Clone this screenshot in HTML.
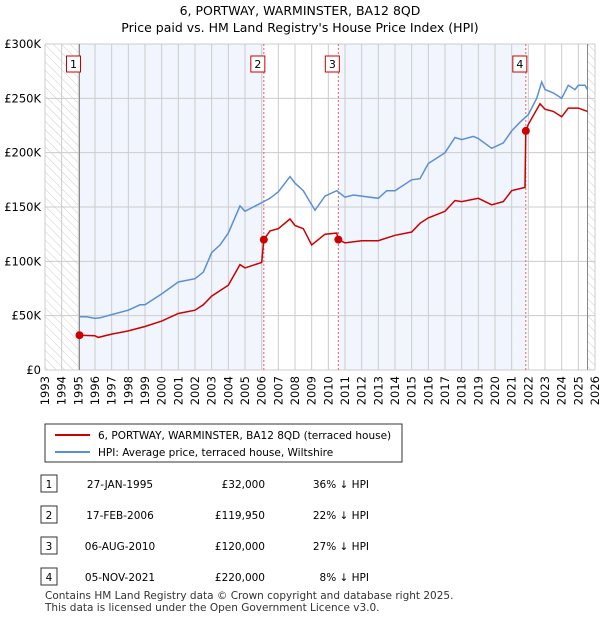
<!DOCTYPE html>
<html><head><meta charset="utf-8"><style>
body{margin:0;background:#fff;font-family:"Liberation Sans","DejaVu Sans",sans-serif;}
svg text{font-family:"DejaVu Sans","Liberation Sans",sans-serif;}
</style></head><body>
<svg id="c" width="600" height="620" xmlns="http://www.w3.org/2000/svg">
<defs><pattern id="hatch" width="6" height="6" patternUnits="userSpaceOnUse" patternTransform="rotate(-45)"><line x1="0" y1="0" x2="0" y2="6" stroke="#ccc" stroke-width="1"/></pattern></defs>
<text x="300" y="15" font-size="12.5" text-anchor="middle">6, PORTWAY, WARMINSTER, BA12 8QD</text>
<text x="300" y="32" font-size="12.5" text-anchor="middle">Price paid vs. HM Land Registry's House Price Index (HPI)</text>
<g id="plot"></g>
<g>
<rect x="45" y="424" width="357" height="38" fill="#fff" stroke="#333" stroke-width="1"/>
<line x1="55" y1="435" x2="90" y2="435" stroke="#cc0000" stroke-width="2"/>
<text x="98" y="439" font-size="10.5">6, PORTWAY, WARMINSTER, BA12 8QD (terraced house)</text>
<line x1="55" y1="452" x2="90" y2="452" stroke="#5b8fd4" stroke-width="2"/>
<text x="98" y="456" font-size="10.5">HPI: Average price, terraced house, Wiltshire</text>
</g>
<g id="table"></g>
<text x="45" y="599" font-size="10.5" fill="#333">Contains HM Land Registry data © Crown copyright and database right 2025.</text>
<text x="45" y="611" font-size="10.5" fill="#333">This data is licensed under the Open Government Licence v3.0.</text>
</svg>
<script>
const hpiYears=[1995.07,1995.5,1996,1996.3,1997,1998,1998.7,1999,2000,2001,2002,2002.5,2003,2003.5,2004,2004.7,2005,2005.5,2006,2006.5,2007,2007.7,2008,2008.5,2009,2009.2,2009.8,2010.5,2011,2011.5,2012,2013,2013.5,2014,2015,2015.5,2016,2016.5,2017,2017.6,2018,2018.7,2019,2019.8,2020.5,2021,2021.5,2022,2022.5,2022.8,2023,2023.5,2024,2024.4,2024.8,2025,2025.4,2025.55];
const hpiValues=[49,49,47.5,48,51,55,60,60,70,81,84,90,108,115,126,151,146,150,154,158,164,178,172,165,152,147,160,165,159,161,160,158,165,165,175,176,190,195,200,214,212,215,213,204,209,220,228,235,250,265,258,255,250,262,258,262,262,258];
const priceYears=[1995.07,1996,1996.2,1997,1998,1999,2000,2001,2002,2002.5,2003,2004,2004.7,2005,2006,2006.13,2006.5,2007,2007.7,2008,2008.5,2009,2009.8,2010.5,2010.6,2011,2012,2013,2014,2015,2015.5,2016,2017,2017.6,2018,2019,2019.8,2020.5,2021,2021.8,2021.85,2022,2022.7,2023,2023.5,2024,2024.4,2025,2025.55];
const priceValues=[32,31.5,30,33,36,40,45,52,55,60,68,78,97,94,99,119.95,128,130,139,133,130,115,125,126,120,117,119,119,124,127,135,140,146,156,155,158,152,155,165,168,220,226,245,240,238,233,241,241,238];
const saleYears=[1995.07,2006.13,2010.6,2021.85];
const saleValues=[32,119.95,120,220];
const saleLabels=["1","2","3","4"];
const saleDates=["27-JAN-1995","17-FEB-2006","06-AUG-2010","05-NOV-2021"];
const salePrices=["£32,000","£119,950","£120,000","£220,000"];
const saleHpi=["36% ↓ HPI","22% ↓ HPI","27% ↓ HPI","8% ↓ HPI"];
const yTicks=[0,50,100,150,200,250,300];
const yTickLabels=["£0","£50K","£100K","£150K","£200K","£250K","£300K"];
const NS="http://www.w3.org/2000/svg";
const X0=45,X1=595,Y0=370,Y1=44,T0=1993,T1=2026,V1=300;
const xs=t=>X0+(t-T0)/(T1-T0)*(X1-X0);
const ys=v=>Y0-v/V1*(Y0-Y1);
const plot=document.getElementById('plot');
function mk(tag,at,parent){const e=document.createElementNS(NS,tag);for(const k in at)e.setAttribute(k,at[k]);(parent||plot).appendChild(e);return e;}
const endT=2025.55;
let e;
e=mk('rect',{x:xs(saleYears[0]),y:Y1,width:xs(saleYears[1])-xs(saleYears[0]),height:Y0-Y1,fill:'#f1f5fd'});


e=mk('rect',{x:xs(saleYears[2]),y:Y1,width:xs(saleYears[3])-xs(saleYears[2]),height:Y0-Y1,fill:'#f1f5fd'});


e=mk('rect',{x:X0,y:Y1,width:xs(saleYears[0])-X0,height:Y0-Y1,fill:'url(#hatch)'});


e=mk('rect',{x:xs(endT),y:Y1,width:X1-xs(endT),height:Y0-Y1,fill:'url(#hatch)'});


for(let t=T0;t<=T1;t++){
 e=mk('line',{x1:xs(t),x2:xs(t),y1:Y1,y2:Y0,stroke:'#ccc','stroke-width':1});
 
 
 e=mk('text',{x:0,y:0,'font-size':11.5,'text-anchor':'end',transform:`translate(${xs(t)+4},${Y0+6}) rotate(-90)`});
 e.textContent=t;
 
 
}
yTicks.forEach((v,i)=>{
 e=mk('line',{x1:X0,x2:X1,y1:ys(v),y2:ys(v),stroke:'#ccc','stroke-width':1});
 
 
 e=mk('text',{x:X0-4,y:ys(v)+4,'font-size':11.5,'text-anchor':'end'});
 e.textContent=yTickLabels[i];
 
 
});
e=mk('line',{x1:xs(saleYears[0]),x2:xs(saleYears[0]),y1:Y1,y2:Y0,stroke:'#888','stroke-width':1});


e=mk('line',{x1:xs(endT),x2:xs(endT),y1:Y1,y2:Y0,stroke:'#888','stroke-width':1});


for(let i=1;i<saleYears.length;i++){
 e=mk('line',{x1:xs(saleYears[i]),x2:xs(saleYears[i]),y1:Y1,y2:Y0,stroke:'#e06060','stroke-width':1,'stroke-dasharray':'2,2'});
 
 
}
const path=(xa,va)=>xa.map((t,i)=>(i?'L':'M')+xs(t).toFixed(1)+','+ys(va[i]).toFixed(1)).join('');
e=mk('path',{d:path(hpiYears,hpiValues),fill:'none',stroke:'#5b8fd4','stroke-width':1.5});


e=mk('path',{d:path(priceYears,priceValues),fill:'none',stroke:'#cc0000','stroke-width':1.5});


saleYears.forEach((t,i)=>{
 e=mk('circle',{cx:xs(t),cy:ys(saleValues[i]),r:4,fill:'#cc0000'});
 
 
 const bx=xs(t)-3;
 e=mk('rect',{x:bx-10,y:56,width:14,height:16,fill:'#fff',stroke:'#cc0000','stroke-width':1});
 
 
 e=mk('text',{x:bx-3,y:68,'font-size':11,'text-anchor':'middle'});
 e.textContent=saleLabels[i];
 
 
});
const tbl=document.getElementById('table');
const rowY=[484,515,546,577];
saleLabels.forEach((l,i)=>{
 const y=rowY[i];
 e=mk('rect',{x:41,y:y-9,width:16,height:17,fill:'#fff',stroke:'#333','stroke-width':1},tbl);
 
 
 e=mk('text',{x:49,y:y+4,'font-size':10.5,'text-anchor':'middle'},tbl);e.textContent=l;
 
 
 e=mk('text',{x:120,y:y+4,'font-size':10.5,'text-anchor':'middle'},tbl);e.textContent=saleDates[i];
 
 
 e=mk('text',{x:265,y:y+4,'font-size':10.5,'text-anchor':'end'},tbl);e.textContent=salePrices[i];
 
 
 e=mk('text',{x:369,y:y+4,'font-size':10.5,'text-anchor':'end'},tbl);e.textContent=saleHpi[i];
 
 
});
</script>
</body></html>
